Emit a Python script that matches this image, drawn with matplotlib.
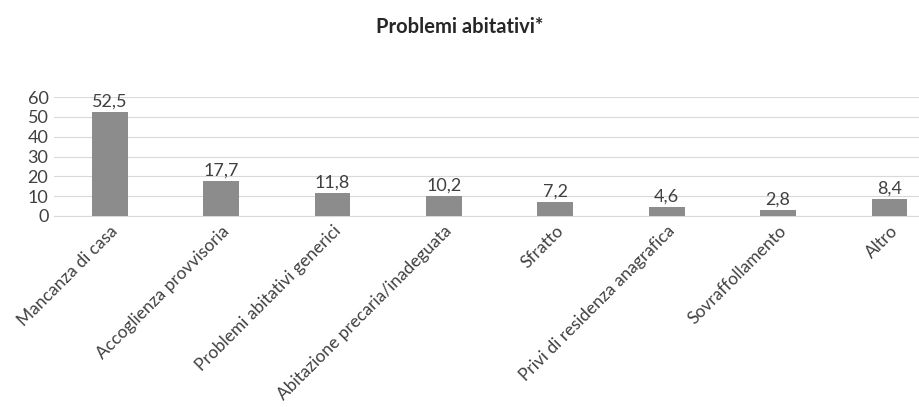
import numpy as np
import matplotlib
matplotlib.use("Agg")
import matplotlib.pyplot as plt

categorie = ["Mancanza di casa", "Accoglienza provvisoria",
             "Problemi abitativi generici", "Abitazione precaria/inadeguata",
             "Sfratto", "Privi di residenza anagrafica", "Sovraffollamento",
             "Altro"]
valori = [52.5, 17.7, 11.8, 10.2, 7.2, 4.6, 2.8, 8.4]
y_ticks = [0, 10, 20, 30, 40, 50, 60]

plt.rcParams['font.family'] = ['Lato', 'DejaVu Sans']

fig = plt.figure(figsize=(9.2, 4.07), dpi=100)
ax = fig.add_axes([54 / 920, 1 - 216 / 407, (920 - 54) / 920, (216 - 97) / 407])

x = np.arange(len(categorie))
bars = ax.bar(x, valori, width=0.32, color='#8c8c8c', zorder=3)
for xi, v in zip(x, valori):
    ax.text(xi, v + 1.2, f"{v:.1f}".replace('.', ','), ha='center',
            va='bottom', fontsize=13, color='#404040')

ax.set_xlim(-0.5, (920 - 54) / 111.4 - 0.5)
ax.set_ylim(0, 60)
ax.set_yticks(y_ticks)
ax.tick_params(axis='y', length=0, labelsize=13, labelcolor='#404040', pad=4)
ax.grid(axis='y', color='#d9d9d9', linewidth=0.8, zorder=0)
for s in ['top', 'right', 'left']:
    ax.spines[s].set_visible(False)
ax.spines['bottom'].set_color('#d9d9d9')

ax.set_xticks(x)
ax.set_xticklabels(categorie, rotation=45, ha='right', rotation_mode='anchor',
                   fontsize=12.5, color='#404040')
ax.tick_params(axis='x', length=0, pad=5)

fig.text(0.5, 1 - 27 / 407, "Problemi abitativi*", ha='center', va='center',
         fontsize=14.5, fontweight='bold', color='#262626')

fig.savefig("out.png", dpi=100)
